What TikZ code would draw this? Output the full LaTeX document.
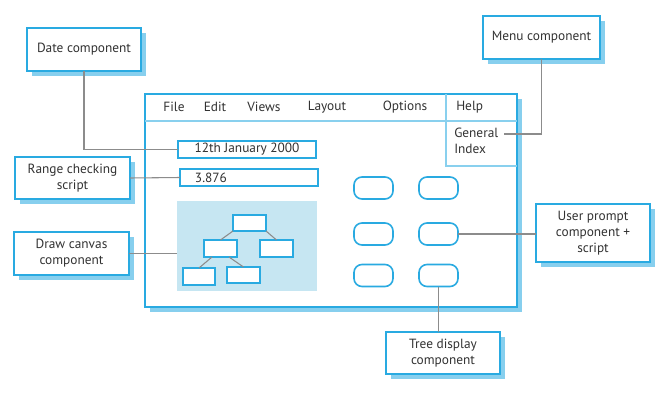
\documentclass[tikz,border=0pt]{standalone}
\usepackage{fontspec}
\setmainfont{PT Sans}
\usetikzlibrary{shadows}
\definecolor{uiblue}{RGB}{41,170,225}
\definecolor{uishadow}{RGB}{135,207,238}
\definecolor{canvasblue}{RGB}{198,230,242}
\definecolor{linkgray}{RGB}{140,140,140}
\definecolor{textgray}{RGB}{50,50,50}
\tikzset{
    sz/.style 2 args={minimum width=#1*0.75pt, minimum height=#2*0.75pt},
    callout/.style={draw=uiblue, line width=1.5pt, fill=white, align=center,
        inner sep=0pt, outer sep=0pt,
        drop shadow={shadow xshift=3.5pt, shadow yshift=-3.5pt, fill=uishadow, opacity=1}},
    field/.style={draw=uiblue, line width=1.2pt, fill=white, inner sep=0pt, outer sep=0pt},
    button/.style={draw=uiblue, line width=1.2pt, rounded corners=6pt, sz={39}{22},
        inner sep=0pt, outer sep=0pt},
    treebox/.style={draw=uiblue, line width=1.2pt, fill=white, inner sep=0pt, outer sep=0pt},
    thinblue/.style={draw=uiblue!55, line width=0.8pt},
    link/.style={draw=linkgray, line width=0.8pt},
    menuitem/.style={inner sep=0pt}
}
\begin{document}
\begin{tikzpicture}[x=0.75pt,y=-0.75pt,every node/.style={text=textgray}]
    \useasboundingbox (0,0) rectangle (662,400);

    \node[callout, sz={372}{213}] (window) at (331,200.5) {};
    \draw[thinblue] (window.west |- 0,121) -- (window.east |- 0,121);
    \draw[thinblue] (window.north -| 446,0) |- (window.east |- 0,166);

    \node[menuitem] (file) at (174,107) {File};
    \node[menuitem] (edit) at (215,107) {Edit};
    \node[menuitem] (views) at (264,107) {Views};
    \node[menuitem] (layout) at (327,107) {Layout};
    \node[menuitem] (options) at (405,107) {Options};
    \node[menuitem, anchor=west] (help) at (456,107) {Help};
    \node[menuitem, anchor=west, align=left] (helpmenu) at (454,141) {General\\Index};
    \coordinate (genend) at (504,134);

    \node[field, sz={138}{17}] (datefield) at (247,149.5) {12th January 2000};
    \node[field, sz={138}{17}, text width=81pt, inner xsep=11.25pt, align=left]
        (rangefield) at (249,177.5) {3.876};

    \node[fill=canvasblue, sz={140}{90}, inner sep=0pt, outer sep=0pt] (canvas) at (247,246) {};
    \node[treebox, sz={33}{16}] (t1) at (249.5,223) {};
    \node[treebox, sz={33}{17}] (t2) at (220.5,248.5) {};
    \node[treebox, sz={33}{17}] (t3) at (276.5,248.5) {};
    \node[treebox, sz={32}{17}] (t4) at (199,276.5) {};
    \node[treebox, sz={33}{16}] (t5) at (243.5,275) {};
    \draw[link] (t1.south west) -- (t2.north);
    \draw[link] (t1.south east) -- (t3.north);
    \draw[link] (t2.-135) -- (t4.north);
    \draw[link] (t2.-45) -- (t5.north);

    \foreach \r/\y in {1/188,2/234,3/275.5}
        \foreach \c/\x in {1/373.5,2/438.5}
            \node[button] (b\r\c) at (\x,\y) {};

    \node[callout, sz={114}{43}] (date) at (84,49.5) {Date component};
    \node[callout, sz={117}{43}] (menu) at (541.5,37.5) {Menu component};
    \node[callout, sz={115}{42}] (range) at (72.5,178) {Range checking\\script};
    \node[callout, sz={115}{43}] (drawcanvas) at (71.5,253.5) {Draw canvas\\component};
    \node[callout, sz={114}{58}] (prompt) at (593,233) {User prompt\\component +\\script};
    \node[callout, sz={114}{42}] (tree) at (443,353) {Tree display\\component};

    \draw[link] (date.south) |- (datefield.west);
    \draw[link] (range.east) -- (rangefield.west);
    \draw[link] (menu.south) |- (genend);
    \draw[link] (drawcanvas.east) -- (drawcanvas.east -| canvas.west);
    \draw[link] (b22.east) -- (b22.east -| prompt.west);
    \draw[link] (b32.south) -- (b32.south |- tree.north);
\end{tikzpicture}
\end{document}
